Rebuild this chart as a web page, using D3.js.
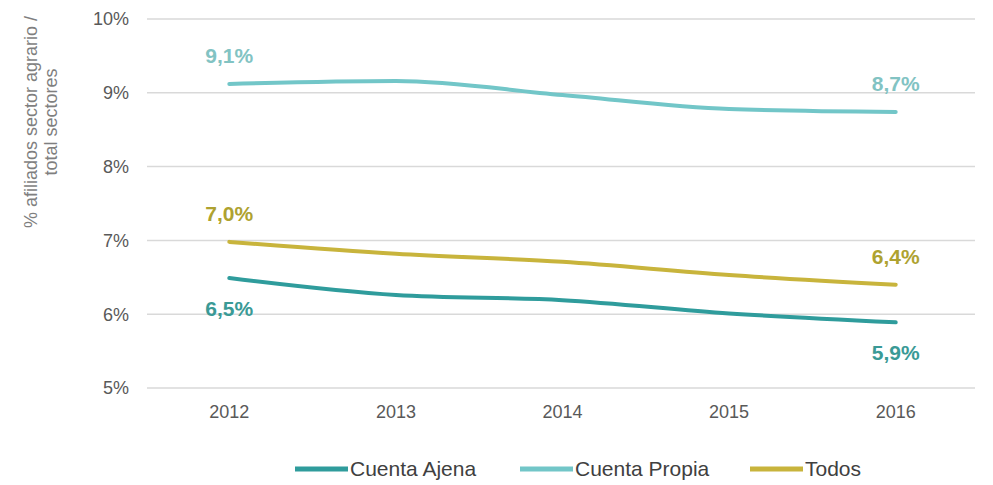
<!DOCTYPE html>
<html>
<head>
<meta charset="utf-8">
<script src="https://cdn.jsdelivr.net/npm/d3@7"></script>
<style>
  body { margin: 0; background: #fff; }
  text { font-family: "Liberation Sans", Arial, sans-serif; }
</style>
</head>
<body>
<div id="chart"></div>
<script>
var years = ["2012", "2013", "2014", "2015", "2016"];
var cuentaAjena = [6.49, 6.26, 6.19, 6.01, 5.89];
var cuentaPropia = [9.12, 9.16, 8.97, 8.78, 8.74];
var todos = [6.98, 6.82, 6.71, 6.53, 6.40];
var yTicks = [5, 6, 7, 8, 9, 10];

var series = [
  {name: "Cuenta Ajena", values: cuentaAjena, color: "#2f9c9c", label: "#3a9a96", labelPos: "below"},
  {name: "Cuenta Propia", values: cuentaPropia, color: "#72c6c8", label: "#82c3c3", labelPos: "above"},
  {name: "Todos", values: todos, color: "#c8b43c", label: "#aea230", labelPos: "above"}
];

var W = 993, H = 485;
var svg = d3.select("#chart").append("svg")
  .attr("width", W).attr("height", H);

var x = d3.scaleBand().domain(years).range([146, 979]);
var y = d3.scaleLinear().domain([5, 10]).range([388, 19]);

// gridlines
svg.append("g").selectAll("line")
  .data(yTicks).enter().append("line")
  .attr("x1", 147).attr("x2", 975)
  .attr("y1", function(d) { return y(d); })
  .attr("y2", function(d) { return y(d); })
  .attr("stroke", "#d9d9d9").attr("stroke-width", 1.5);

// y tick labels
svg.append("g").selectAll("text")
  .data(yTicks).enter().append("text")
  .attr("x", 129).attr("y", function(d) { return y(d); })
  .attr("dy", "0.35em").attr("text-anchor", "end")
  .attr("font-size", 18).attr("fill", "#595959")
  .text(function(d) { return d + "%"; });

// x tick labels
svg.append("g").selectAll("text")
  .data(years).enter().append("text")
  .attr("x", function(d) { return x(d) + x.bandwidth() / 2; })
  .attr("y", 418)
  .attr("text-anchor", "middle")
  .attr("font-size", 18).attr("fill", "#595959")
  .text(function(d) { return d; });

// axis title
var title = svg.append("text")
  .attr("transform", "translate(37,122) rotate(-90)")
  .attr("text-anchor", "middle")
  .attr("font-size", 18).attr("fill", "#7f7f7f");
title.append("tspan").attr("x", 0).attr("dy", 0).text("% afiliados sector agrario /");
title.append("tspan").attr("x", 0).attr("dy", 20).text("total sectores");

var line = d3.line()
  .x(function(d, i) { return x(years[i]) + x.bandwidth() / 2; })
  .y(function(d) { return y(d); })
  .curve(d3.curveMonotoneX);

svg.append("g").selectAll("path")
  .data(series).enter().append("path")
  .attr("d", function(d) { return line(d.values); })
  .attr("fill", "none")
  .attr("stroke", function(d) { return d.color; })
  .attr("stroke-width", 4)
  .attr("stroke-linecap", "round");

// end labels
function fmt(v) { return v.toFixed(1).replace(".", ",") + "%"; }
var labels = [];
series.forEach(function(s) {
  [0, years.length - 1].forEach(function(i) {
    labels.push({s: s, i: i, v: s.values[i]});
  });
});
svg.append("g").selectAll("text")
  .data(labels).enter().append("text")
  .attr("x", function(d) { return x(years[d.i]) + x.bandwidth() / 2; })
  .attr("y", function(d) {
    return d.s.labelPos === "above" ? y(d.s.values[d.i]) - 21 : y(d.s.values[d.i]) + 38;
  })
  .attr("text-anchor", "middle")
  .attr("font-size", 21).attr("font-weight", "bold")
  .attr("fill", function(d) { return d.s.label; })
  .text(function(d) { return fmt(d.v); });

// legend
var legendX = [295, 520, 750];
var legend = svg.append("g").selectAll("g")
  .data(series).enter().append("g")
  .attr("transform", function(d, i) { return "translate(" + legendX[i] + ",469)"; });
legend.append("line")
  .attr("x1", 0).attr("x2", 53).attr("y1", 0).attr("y2", 0)
  .attr("stroke", function(d) { return d.color; })
  .attr("stroke-width", 5);
legend.append("text")
  .attr("x", 55).attr("dy", "0.35em")
  .attr("font-size", 21).attr("fill", "#404040")
  .text(function(d) { return d.name; });
</script>
</body>
</html>
